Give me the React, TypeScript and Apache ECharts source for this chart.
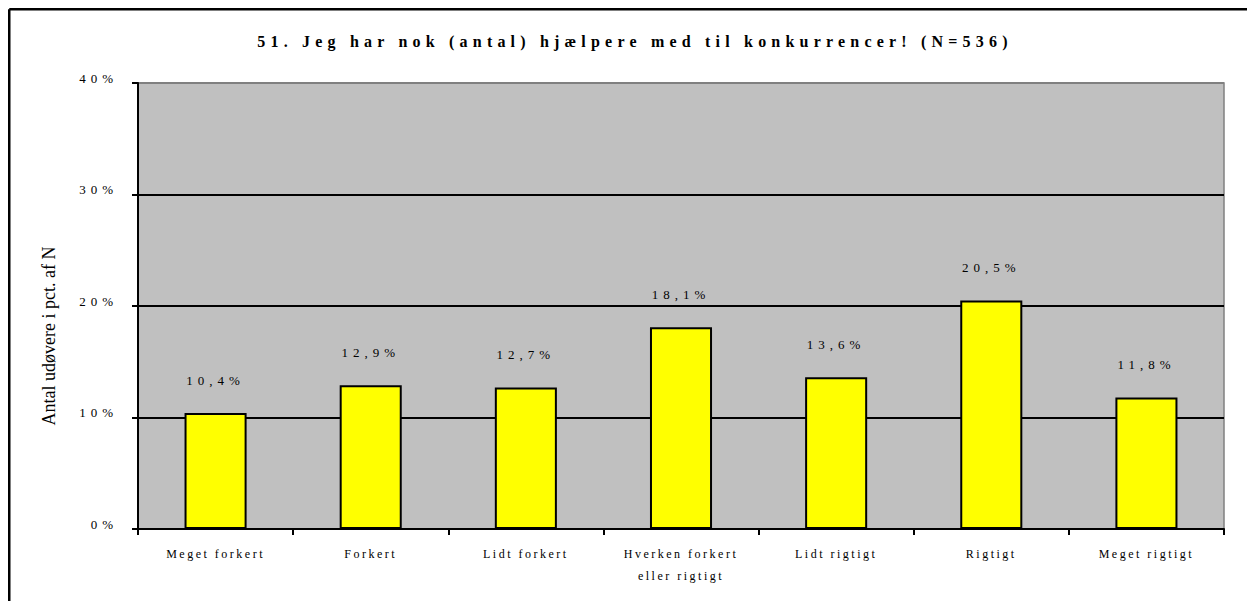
import React, { useEffect, useRef } from "react";
import * as echarts from "echarts";

const titleText = "51. Jeg har nok (antal) hjælpere med til konkurrencer! (N=536)";
const yAxisName = "Antal udøvere i pct. af N";
const categories = [
  "Meget forkert",
  "Forkert",
  "Lidt forkert",
  "Hverken forkert\neller rigtigt",
  "Lidt rigtigt",
  "Rigtigt",
  "Meget rigtigt",
];
const values = [10.4, 12.9, 12.7, 18.1, 13.6, 20.5, 11.8];
const yMin = 0;
const yMax = 40;
const yInterval = 10;

const fmtValue = (v: number) => v.toFixed(1).replace(".", ",") + "%";
const fmtTick = (v: number) => v + "%";

const FONT = "'Liberation Serif', 'Times New Roman', serif";

export default function App() {
  const ref = useRef<HTMLDivElement>(null);

  useEffect(() => {
    if (!ref.current) return;
    const el = ref.current;
    const chart = echarts.init(el, undefined, { renderer: "svg" });

    const W = 1247;
    const H = 593;

    const valueSet = new Set(values.map(fmtValue));
    const tickSet = new Set<string>();
    for (let v = yMin; v <= yMax; v += yInterval) tickSet.add(fmtTick(v));
    const xLines = new Set<string>();
    categories.forEach((c) => c.split("\n").forEach((l) => xLines.add(l)));

    const applySpacing = () => {
      el.querySelectorAll("text").forEach((t) => {
        const s = t.textContent || "";
        let ls = 0;
        if (s === titleText) ls = 5.2;
        else if (valueSet.has(s)) ls = 5;
        else if (tickSet.has(s)) ls = 5;
        else if (xLines.has(s)) ls = 2.5;
        if (ls) t.setAttribute("letter-spacing", ls + "px");
      });
    };

    chart.on("finished", applySpacing);

    chart.setOption({
      animation: false,
      backgroundColor: "#ffffff",
      textStyle: { fontFamily: FONT },
      graphic: [
        {
          type: "line",
          silent: true,
          shape: { x1: 1.25, y1: 1.25, x2: W, y2: 1.25 },
          style: { stroke: "#000", lineWidth: 2.5 },
        },
        {
          type: "line",
          silent: true,
          shape: { x1: 1.25, y1: 1.25, x2: 1.25, y2: H },
          style: { stroke: "#000", lineWidth: 2.5 },
        },
        {
          type: "text",
          silent: true,
          x: 627,
          y: 33,
          style: {
            text: titleText,
            textAlign: "center",
            textVerticalAlign: "middle",
            fontFamily: FONT,
            fontSize: 16,
            fontWeight: "bold",
            fill: "#000",
          },
        },
        {
          type: "text",
          silent: true,
          x: 41,
          y: 328,
          rotation: Math.PI / 2,
          style: {
            text: yAxisName,
            textAlign: "center",
            textVerticalAlign: "middle",
            fontFamily: FONT,
            fontSize: 18,
            fill: "#000",
          },
        },
      ],
      grid: {
        left: 130,
        right: 31,
        top: 75,
        bottom: 72,
        show: true,
        backgroundColor: "#C0C0C0",
        borderColor: "#808080",
        borderWidth: 1.5,
      },
      xAxis: {
        type: "category",
        data: categories,
        boundaryGap: true,
        axisLine: { show: true, lineStyle: { color: "#000", width: 2 } },
        axisTick: {
          show: true,
          alignWithLabel: false,
          length: 6,
          lineStyle: { color: "#000", width: 2 },
        },
        axisLabel: {
          interval: 0,
          margin: 14,
          color: "#000",
          fontFamily: FONT,
          fontSize: 12,
          lineHeight: 22,
        },
        splitLine: { show: false },
      },
      yAxis: {
        type: "value",
        min: yMin,
        max: yMax,
        interval: yInterval,
        axisLine: { show: true, lineStyle: { color: "#000", width: 2 } },
        axisTick: { show: true, length: 6, lineStyle: { color: "#000", width: 2 } },
        axisLabel: {
          margin: 20,
          color: "#000",
          fontFamily: FONT,
          fontSize: 13,
          verticalAlign: "bottom",
          lineHeight: 10,
          formatter: (v: number) => fmtTick(v),
        },
        splitLine: {
          show: true,
          lineStyle: { color: ["#000", "#000", "#000", "#000", "#808080"], width: 2 },
        },
      },
      series: [
        {
          type: "bar",
          data: values,
          barWidth: "40%",
          silent: true,
          itemStyle: { color: "#FFFF00", borderColor: "#000", borderWidth: 2 },
          label: {
            show: true,
            position: "top",
            distance: 26,
            color: "#000",
            fontFamily: FONT,
            fontSize: 13,
            formatter: (p: any) => fmtValue(p.value),
          },
        },
      ],
    });

    applySpacing();

    return () => {
      chart.dispose();
    };
  }, []);

  return <div ref={ref} style={{ width: 1247, height: 593 }} />;
}
